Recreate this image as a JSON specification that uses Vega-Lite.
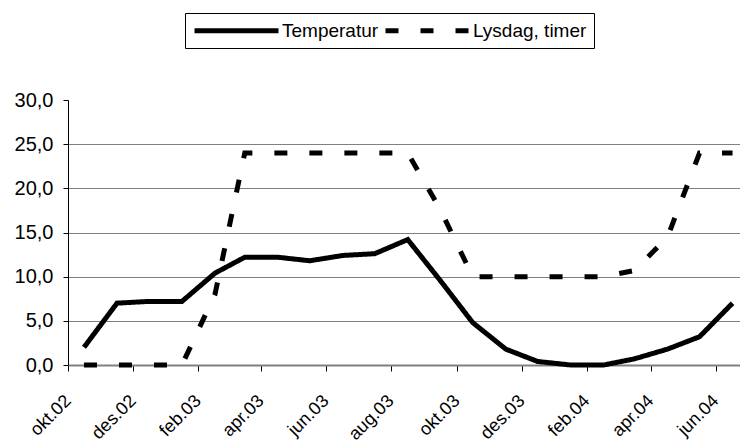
{
  "$schema": "https://vega.github.io/schema/vega-lite/v6.json",
  "width": 672,
  "height": 265,
  "autosize": {"type": "none"},
  "padding": {"left": 68, "top": 100, "right": 0, "bottom": 78},
  "background": "white",
  "config": {"view": {"stroke": null}, "font": "Liberation Sans"},
  "data": {
    "values": [
      {"dato": "2002-10-01", "serie": "Temperatur", "verdi": 2.0},
      {"dato": "2002-11-01", "serie": "Temperatur", "verdi": 7.0},
      {"dato": "2002-12-01", "serie": "Temperatur", "verdi": 7.2},
      {"dato": "2003-01-01", "serie": "Temperatur", "verdi": 7.2},
      {"dato": "2003-02-01", "serie": "Temperatur", "verdi": 10.4},
      {"dato": "2003-03-01", "serie": "Temperatur", "verdi": 12.2},
      {"dato": "2003-04-01", "serie": "Temperatur", "verdi": 12.2},
      {"dato": "2003-05-01", "serie": "Temperatur", "verdi": 11.8},
      {"dato": "2003-06-01", "serie": "Temperatur", "verdi": 12.4},
      {"dato": "2003-07-01", "serie": "Temperatur", "verdi": 12.6},
      {"dato": "2003-08-01", "serie": "Temperatur", "verdi": 14.2},
      {"dato": "2003-09-01", "serie": "Temperatur", "verdi": 9.5},
      {"dato": "2003-10-01", "serie": "Temperatur", "verdi": 4.8},
      {"dato": "2003-11-01", "serie": "Temperatur", "verdi": 1.8},
      {"dato": "2003-12-01", "serie": "Temperatur", "verdi": 0.4},
      {"dato": "2004-01-01", "serie": "Temperatur", "verdi": 0.0},
      {"dato": "2004-02-01", "serie": "Temperatur", "verdi": 0.0},
      {"dato": "2004-03-01", "serie": "Temperatur", "verdi": 0.7},
      {"dato": "2004-04-01", "serie": "Temperatur", "verdi": 1.8},
      {"dato": "2004-05-01", "serie": "Temperatur", "verdi": 3.2},
      {"dato": "2004-06-01", "serie": "Temperatur", "verdi": 7.0},
      {"dato": "2002-10-01", "serie": "Lysdag, timer", "verdi": 0},
      {"dato": "2002-11-01", "serie": "Lysdag, timer", "verdi": 0},
      {"dato": "2002-12-01", "serie": "Lysdag, timer", "verdi": 0},
      {"dato": "2003-01-01", "serie": "Lysdag, timer", "verdi": 0},
      {"dato": "2003-02-01", "serie": "Lysdag, timer", "verdi": 8.0},
      {"dato": "2003-03-01", "serie": "Lysdag, timer", "verdi": 24},
      {"dato": "2003-04-01", "serie": "Lysdag, timer", "verdi": 24},
      {"dato": "2003-05-01", "serie": "Lysdag, timer", "verdi": 24},
      {"dato": "2003-06-01", "serie": "Lysdag, timer", "verdi": 24},
      {"dato": "2003-07-01", "serie": "Lysdag, timer", "verdi": 24},
      {"dato": "2003-08-01", "serie": "Lysdag, timer", "verdi": 24},
      {"dato": "2003-09-01", "serie": "Lysdag, timer", "verdi": 17.5},
      {"dato": "2003-10-01", "serie": "Lysdag, timer", "verdi": 10},
      {"dato": "2003-11-01", "serie": "Lysdag, timer", "verdi": 10},
      {"dato": "2003-12-01", "serie": "Lysdag, timer", "verdi": 10},
      {"dato": "2004-01-01", "serie": "Lysdag, timer", "verdi": 10},
      {"dato": "2004-02-01", "serie": "Lysdag, timer", "verdi": 10},
      {"dato": "2004-03-01", "serie": "Lysdag, timer", "verdi": 10.7},
      {"dato": "2004-04-01", "serie": "Lysdag, timer", "verdi": 14.5},
      {"dato": "2004-05-01", "serie": "Lysdag, timer", "verdi": 24},
      {"dato": "2004-06-01", "serie": "Lysdag, timer", "verdi": 24}
    ]
  },
  "mark": {"type": "line", "strokeWidth": 5, "color": "black", "strokeCap": "butt", "strokeJoin": "miter"},
  "encoding": {
    "x": {
      "field": "dato",
      "type": "temporal",
      "scale": {
        "type": "utc",
        "domain": [
          {"year": 2002, "month": 9, "date": 16, "utc": true},
          {"year": 2004, "month": 6, "date": 8, "utc": true}
        ]
      },
      "axis": {
        "title": null,
        "grid": false,
        "values": [
          {"year": 2002, "month": 9, "date": 16, "utc": true},
          {"year": 2002, "month": 11, "date": 16, "utc": true},
          {"year": 2003, "month": 1, "date": 16, "utc": true},
          {"year": 2003, "month": 3, "date": 16, "utc": true},
          {"year": 2003, "month": 5, "date": 16, "utc": true},
          {"year": 2003, "month": 7, "date": 16, "utc": true},
          {"year": 2003, "month": 9, "date": 16, "utc": true},
          {"year": 2003, "month": 11, "date": 16, "utc": true},
          {"year": 2004, "month": 1, "date": 16, "utc": true},
          {"year": 2004, "month": 3, "date": 16, "utc": true},
          {"year": 2004, "month": 5, "date": 16, "utc": true}
        ],
        "labelExpr": "['jan','feb','mar','apr','mai','jun','jul','aug','sep','okt','nov','des'][utcmonth(datum.value + 1728000000)] + '.' + utcFormat(datum.value + 1728000000, '%y')",
        "labelAngle": -45,
        "labelAlign": "right",
        "labelBaseline": "middle",
        "labelPadding": 27,
        "labelDx": 3,
        "labelFont": "Liberation Sans",
        "labelFontSize": 18,
        "labelColor": "black",
        "labelOverlap": false,
        "labelFlush": false,
        "tickSize": 6,
        "tickColor": "black",
        "tickWidth": 1,
        "domainColor": "#808080",
        "domainWidth": 2
      }
    },
    "y": {
      "field": "verdi",
      "type": "quantitative",
      "scale": {"domain": [0, 30], "nice": false},
      "axis": {
        "title": null,
        "values": [0, 5, 10, 15, 20, 25, 30],
        "labelExpr": "replace(format(datum.value, '.1f'), '.', ',')",
        "labelFont": "Liberation Sans",
        "labelFontSize": 20,
        "labelColor": "black",
        "labelPadding": 10,
        "tickSize": 5,
        "tickColor": "black",
        "domainColor": "black",
        "domainWidth": 1,
        "grid": true,
        "gridColor": "#808080",
        "gridWidth": 1,
        "gridOpacity": {"condition": {"test": "datum.value === 30 || datum.value === 0", "value": 0}, "value": 1}
      }
    },
    "strokeDash": {
      "field": "serie",
      "type": "nominal",
      "scale": {"domain": ["Temperatur", "Lysdag, timer"], "range": [[1, 0], [13, 22]]},
      "legend": {
        "title": null,
        "orient": "none",
        "legendX": 117,
        "legendY": -87,
        "direction": "horizontal",
        "symbolType": "M-1,0H9.5",
        "symbolSize": 256,
        "symbolStrokeWidth": 5,
        "symbolStrokeColor": "black",
        "labelFont": "Liberation Sans",
        "labelFontSize": 19,
        "labelColor": "black",
        "labelOffset": 69,
        "columnPadding": -4,
        "padding": 7,
        "strokeColor": "black",
        "fillColor": "white",
        "cornerRadius": 0
      }
    }
  }
}
